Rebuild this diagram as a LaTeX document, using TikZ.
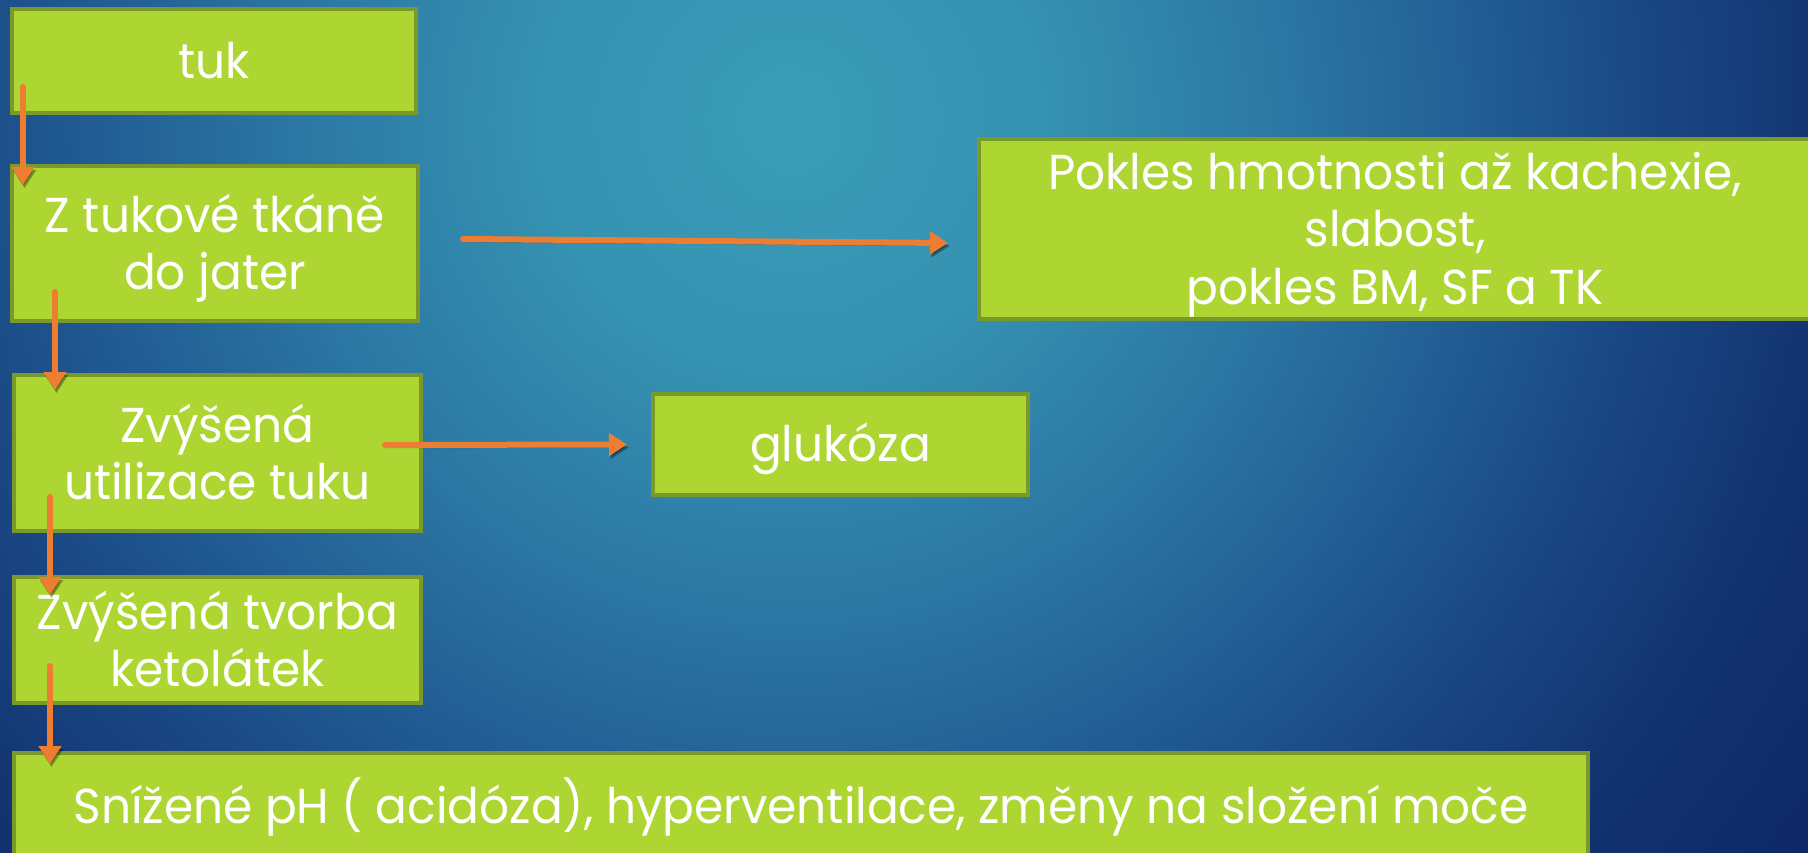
\documentclass[tikz,border=0pt]{standalone}
\usepackage{fontspec}
\setmainfont{Poppins}[FakeStretch=0.96]
\usetikzlibrary{arrows.meta}
\definecolor{boxfill}{HTML}{ADD633}
\definecolor{boxline}{HTML}{7B992A}
\definecolor{arrcol}{HTML}{ED7D31}
\definecolor{bgA}{HTML}{3A9DB8}
\definecolor{bgB}{HTML}{3592B1}
\definecolor{bgC}{HTML}{2B76A3}
\definecolor{bgD}{HTML}{215C93}
\definecolor{bgE}{HTML}{1A4885}
\definecolor{bgF}{HTML}{12336F}
\definecolor{bgG}{HTML}{0C2562}
\pgfdeclareradialshading{bgshade}{\pgfpointorigin}{color(0bp)=(bgA); color(250bp)=(bgB); color(500bp)=(bgC); color(700bp)=(bgD); color(850bp)=(bgE); color(1050bp)=(bgF); color(1300bp)=(bgG)}
\newcommand\topstr{\rule{0pt}{48pt}}
\newcommand\botstr{\rule[-12pt]{0pt}{12pt}}
\begin{document}
\begin{tikzpicture}[x=1pt,y=-1pt,
  box/.style={draw=boxline, line width=4pt, fill=boxfill, text=white, align=center, inner sep=0pt, font=\fontsize{49}{57.5}\selectfont},
  arr/.style={draw=arrcol, line width=6pt, line cap=round, -{Triangle[width=22pt,length=18pt]},
    preaction={draw=black, opacity=0.35, transform canvas={xshift=1.5pt,yshift=-3pt}}}]
\useasboundingbox (0,0) rectangle (1808,853);
\begin{scope}
\clip (0,0) rectangle (1808,853);
\fill[bgG] (0,0) rectangle (1808,853);
\pgflowlevelobj{\pgftransformshift{\pgfpoint{790pt}{-120pt}}}{\pgfuseshading{bgshade}}
\end{scope}
\node[box, minimum width=404pt, minimum height=104pt] (tuk) at (214,61) {\topstr tuk\botstr};
\node[box, minimum width=406pt, minimum height=155pt] (zt) at (215,243.5) {\topstr Z tukové tkáně\\do jater\botstr};
\node[box, minimum width=407pt, minimum height=156pt] (ut) at (217.5,453) {\topstr Zvýšená\\utilizace tuku\botstr};
\node[box, minimum width=407pt, minimum height=126pt] (tv) at (217.5,640) {\topstr Zvýšená tvorba\\ketolátek\botstr};
\node[box, minimum width=1574pt, minimum height=105pt] (sn) at (801,805.5) {\topstr Snížené pH ( acidóza), hyperventilace, změny na složení moče\botstr};
\node[box, minimum width=375pt, minimum height=101pt] (glk) at (840.5,444.5) {\topstr glukóza\botstr};
\node[box, minimum width=832pt, minimum height=180pt] (pk) at (1395,229) {\topstr Pokles hmotnosti až kachexie,\\slabost,\\pokles BM, SF a TK\botstr};
\draw[arr] ([xshift=13pt,yshift=28pt]tuk.south west) -- ([xshift=13pt,yshift=-21pt]zt.north west);
\draw[arr] ([xshift=45pt,yshift=31pt]zt.south west) -- ([xshift=43pt,yshift=-17pt]ut.north west);
\draw[arr] ([xshift=38pt,yshift=36pt]ut.south west) -- ([xshift=38pt,yshift=-20pt]tv.north west);
\draw[arr] ([xshift=38pt,yshift=39pt]tv.south west) -- ([xshift=38pt,yshift=-13pt]sn.north west);
\draw[arr] ([xshift=-38pt,yshift=8pt]ut.east) -- ([xshift=-24pt]glk.west);
\draw[arr] ([xshift=43pt,yshift=4.5pt]zt.east) -- ([xshift=-29pt,yshift=-14pt]pk.west);
\end{tikzpicture}
\end{document}
